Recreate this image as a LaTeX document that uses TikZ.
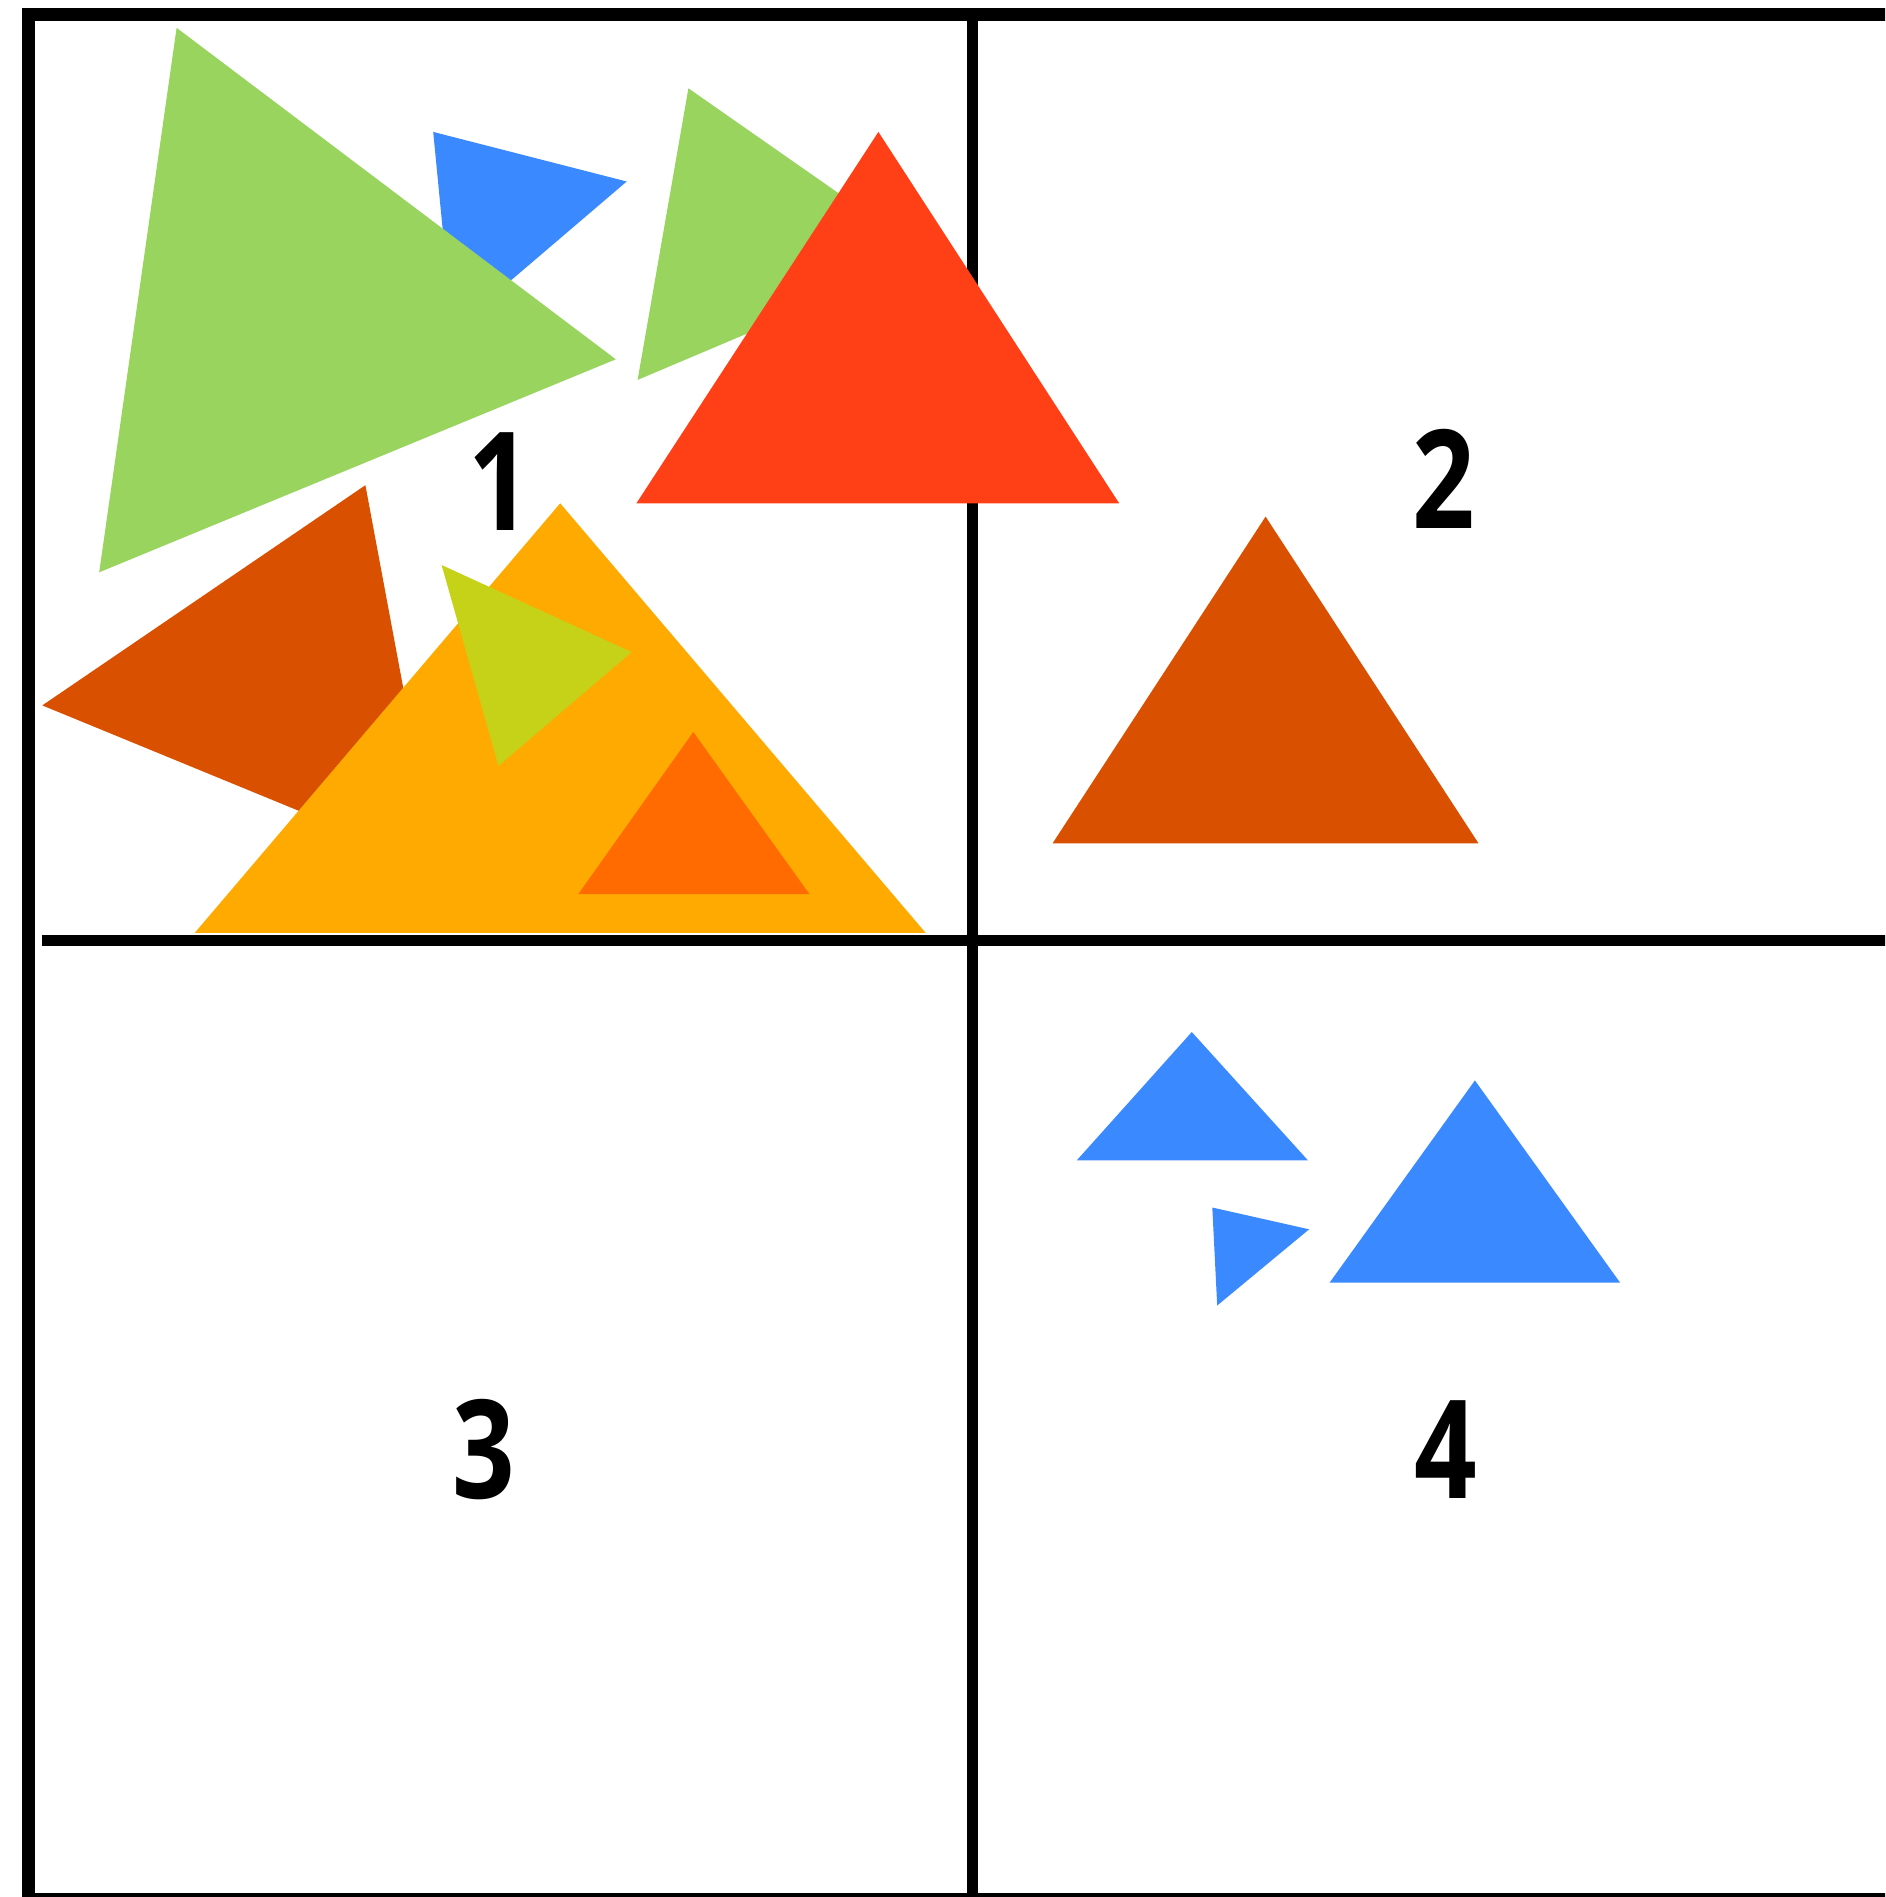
\documentclass[tikz,border=0pt]{standalone}
\usepackage{fontspec}
\setmainfont{Open Sans}[FakeStretch=0.8]
\usepackage{tikz}

\definecolor{leafgreen}{RGB}{153,212,95}
\definecolor{skyblue}{RGB}{59,137,255}
\definecolor{redorange}{RGB}{255,64,22}
\definecolor{rust}{RGB}{217,80,0}
\definecolor{amber}{RGB}{255,170,0}
\definecolor{lime}{RGB}{197,210,23}
\definecolor{tangerine}{RGB}{255,107,0}

\tikzset{
  quadlabel/.style={inner sep=0pt, font=\fontsize{39}{39}\selectfont\bfseries},
  frameline/.style={line width=1.3mm},
  splitline/.style={line width=1.05mm}
}

\begin{document}
\begin{tikzpicture}[x=0.1mm,y=-0.1mm]
        \useasboundingbox (0,0) rectangle (1885,1897);
        \clip (0,0) rectangle (1885,1897);
        % grid
        \draw [frameline] (1900,14.5) -- (28.5,14.5) -- (28.5,1899.5) -- (1900,1899.5);
        \draw [splitline] (972.7,14.5) -- (972.7,1899.5);
        \draw [splitline] (42,940.5) -- (1900,940.5);
        % quadrant 1
        \fill [skyblue] (433.2,131.9) -- (626.7,181.5) -- (452.5,330.3) -- cycle;
        \fill [leafgreen] (176.6,27.8) -- (615.8,359.3) -- (99.2,572.3) -- cycle;
        \fill [leafgreen] (688.4,88.3) -- (929.2,256.5) -- (637.6,379.9) -- cycle;
        \fill [redorange] (878.4,131.9) -- (1119.2,503.3) -- (636.4,503.3) -- cycle;
        \fill [rust] (365.4,485.2) -- (436.8,867.5) -- (42.3,705.4) -- cycle;
        \fill [amber] (560.2,503.3) -- (925.6,932.8) -- (194.8,932.8) -- cycle;
        \fill [lime] (441.6,565) -- (631.6,652.1) -- (498.5,765.9) -- cycle;
        \fill [tangerine] (693.3,732) -- (809.4,894.1) -- (578.3,894.1) -- cycle;
        % quadrant 2
        \fill [rust] (1265.6,516.6) -- (1478.5,843.3) -- (1052.6,843.3) -- cycle;
        % quadrant 4
        \fill [skyblue] (1191.8,1032) -- (1307.9,1160.3) -- (1076.8,1160.3) -- cycle;
        \fill [skyblue] (1212.3,1207.5) -- (1309.1,1229.3) -- (1217.2,1305.5) -- cycle;
        \fill [skyblue] (1474.9,1080.4) -- (1620,1282.5) -- (1329.7,1282.5) -- cycle;
        \node [quadlabel] (q1) at (500,482) {1};
        \node [quadlabel] (q2) at (1444,479) {2};
        \node [quadlabel] (q3) at (484,1450) {3};
        \node [quadlabel] (q4) at (1446,1450) {4};
    \end{tikzpicture}
\end{document}
